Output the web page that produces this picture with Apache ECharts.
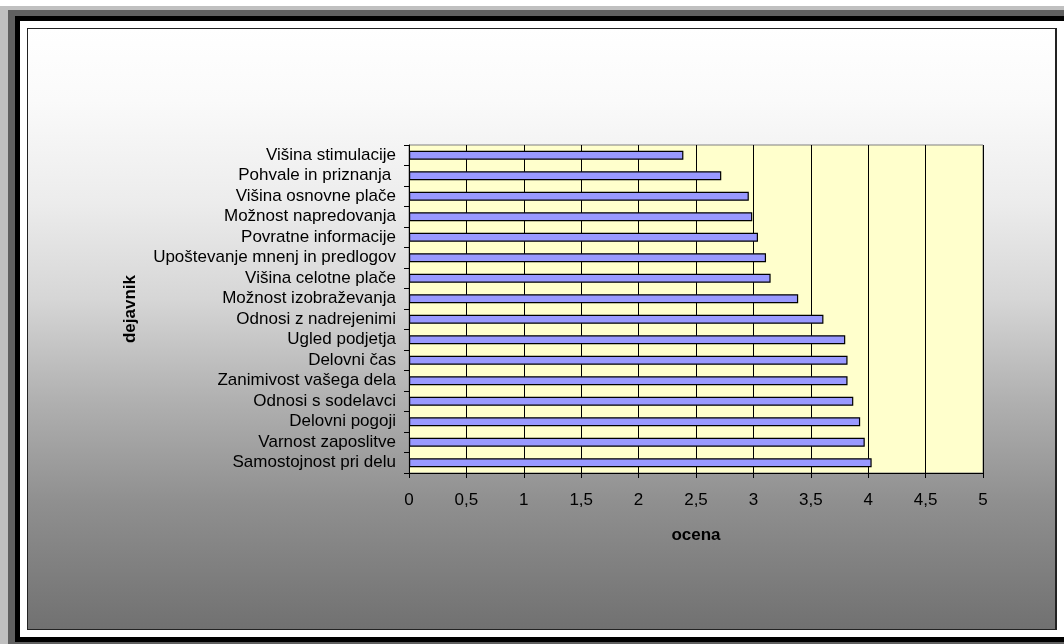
<!DOCTYPE html>
<html>
<head>
<meta charset="utf-8">
<script src="https://cdn.jsdelivr.net/npm/echarts@6/dist/echarts.min.js"></script>
<style>
  html, body { margin: 0; padding: 0; background: #ffffff; }
  #page { position: relative; width: 1064px; height: 644px; overflow: hidden; background: #ffffff; }
  .band { position: absolute; }
  #chart { position: absolute; left: 0; top: 0; width: 1064px; height: 644px; }
</style>
</head>
<body>
<div id="page">
  <!-- layered picture frame around the chart area -->
  <div class="band" style="left:0;top:6px;width:1064px;height:638px;background:#c0c0c0;"></div>
  <div class="band" style="left:8px;top:10px;width:1056px;height:634px;background:#606060;"></div>
  <div class="band" style="left:15px;top:16px;width:1049px;height:626px;background:#000000;"></div>
  <div class="band" style="left:20px;top:21px;width:1044px;height:616px;background:#ffffff;"></div>
  <div class="band" style="left:27px;top:28px;width:1027px;height:600px;border:1px solid #222;border-right:2px solid #222;
       background:linear-gradient(to bottom,#ffffff 0%,#fafafa 12%,#ececec 29%,#d6d6d6 45%,#b0b0b0 62%,#8f8f8f 79%,#717171 100%);"></div>
  <div id="chart"></div>
</div>
<script>
// factors, listed top to bottom
const categories = [
  'Višina stimulacije',
  'Pohvale in priznanja ',
  'Višina osnovne plače',
  'Možnost napredovanja',
  'Povratne informacije',
  'Upoštevanje mnenj in predlogov',
  'Višina celotne plače',
  'Možnost izobraževanja',
  'Odnosi z nadrejenimi',
  'Ugled podjetja',
  'Delovni čas',
  'Zanimivost vašega dela',
  'Odnosi s sodelavci',
  'Delovni pogoji',
  'Varnost zaposlitve',
  'Samostojnost pri delu'
];

// average rating for each factor
const ratings = [2.39, 2.72, 2.96, 2.99, 3.04, 3.11, 3.15, 3.39, 3.61, 3.80, 3.82, 3.82, 3.87, 3.93, 3.97, 4.03];

// value axis tick labels (decimal comma)
const xTickLabels = ['0', '0,5', '1', '1,5', '2', '2,5', '3', '3,5', '4', '4,5', '5'];

const FONT = "'Liberation Sans', Arial, sans-serif";

const chart = echarts.init(document.getElementById('chart'), null, { renderer: 'canvas' });

chart.setOption({
  animation: false,
  backgroundColor: 'transparent',
  textStyle: { fontFamily: FONT },
  grid: {
    left: 409,
    top: 145,
    right: 81,
    bottom: 171,
    show: true,
    backgroundColor: '#ffffcc',
    borderColor: '#808080',
    borderWidth: 1
  },
  xAxis: {
    type: 'value',
    min: 0,
    max: 5,
    interval: 0.5,
    name: 'ocena',
    nameLocation: 'middle',
    nameGap: 54,
    nameTextStyle: { fontFamily: FONT, fontSize: 17, fontWeight: 'bold', color: '#000' },
    axisLine: { show: true, lineStyle: { color: '#000', width: 1 } },
    axisTick: { show: true, length: 5, lineStyle: { color: '#000' } },
    axisLabel: {
      fontFamily: FONT,
      fontSize: 17,
      color: '#000',
      margin: 19,
      formatter: (v) => xTickLabels[Math.round(v / 0.5)]
    },
    splitLine: { show: true, lineStyle: { color: '#000', width: 1 } }
  },
  yAxis: {
    type: 'category',
    data: categories,
    inverse: true,
    name: 'dejavnik',
    nameLocation: 'middle',
    nameGap: 270,
    nameTextStyle: { fontFamily: FONT, fontSize: 17, fontWeight: 'bold', color: '#000' },
    axisLine: { show: true, lineStyle: { color: '#000', width: 1 } },
    axisTick: { show: true, length: 5, interval: 0, lineStyle: { color: '#000' } },
    axisLabel: { fontFamily: FONT, fontSize: 17, color: '#000', margin: 13, interval: 0 },
    splitLine: { show: false }
  },
  series: [{
    type: 'bar',
    data: ratings,
    barWidth: 9,
    itemStyle: { color: '#9999ff', borderColor: '#000', borderWidth: 1.2 }
  }]
});
</script>
</body>
</html>
